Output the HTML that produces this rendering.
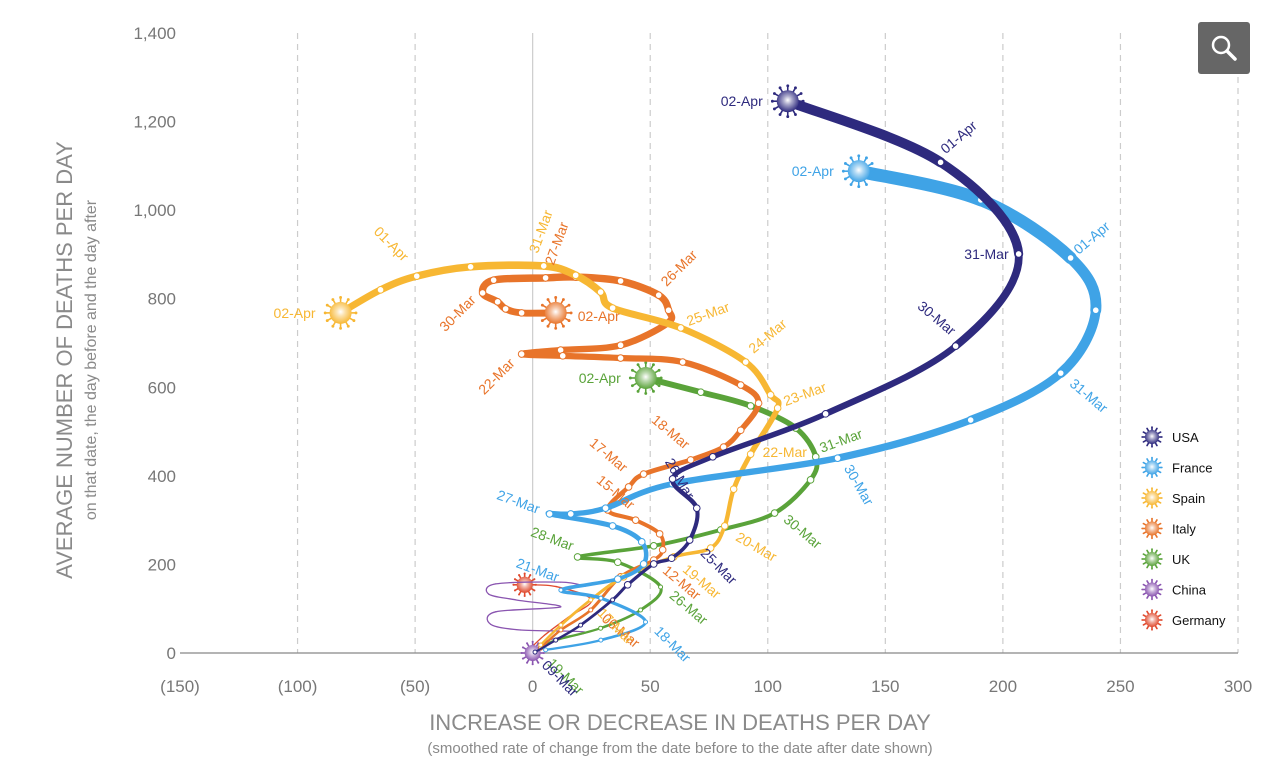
<!DOCTYPE html>
<html><head><meta charset="utf-8"><style>
body{margin:0;background:#fff;}
svg{display:block;font-family:"Liberation Sans",sans-serif;}
</style></head><body>
<svg id="chart" width="1264" height="776" viewBox="0 0 1264 776">
<defs>
<radialGradient id="glow" cx="50%" cy="45%" r="55%"><stop offset="0" stop-color="#fff"/><stop offset="0.35" stop-color="#fff" stop-opacity="0.6"/><stop offset="1" stop-color="#fff" stop-opacity="0"/></radialGradient>
</defs>
<g id="grid"></g>
<g id="axes"></g>
<g id="series"></g>
<g id="labels"></g>
<g id="legend"></g>
<text x="72" y="360" transform="rotate(-90 72 360)" text-anchor="middle" font-size="22" fill="#8a8a8a">AVERAGE NUMBER OF DEATHS PER DAY</text>
<text x="96" y="360" transform="rotate(-90 96 360)" text-anchor="middle" font-size="16" fill="#8a8a8a">on that date, the day before and the day after</text>
<text x="680" y="730" text-anchor="middle" font-size="22" fill="#8a8a8a">INCREASE OR DECREASE IN DEATHS PER DAY</text>
<text x="680" y="753" text-anchor="middle" font-size="15" fill="#8a8a8a">(smoothed rate of change from the date before to the date after date shown)</text>
<g>
<rect x="1198" y="22" width="52" height="52" rx="3" fill="#666"/>
<circle cx="1221" cy="45" r="8" fill="none" stroke="#fff" stroke-width="2.5"/>
<line x1="1227" y1="51" x2="1235" y2="59" stroke="#fff" stroke-width="3.5" stroke-linecap="round"/>
</g>
</svg>
<script>
const xTicks=[-150,-100,-50,0,50,100,150,200,250,300];
const xTickLabels=["(150)","(100)","(50)","0","50","100","150","200","250","300"];
const yTicks=[0,200,400,600,800,1000,1200,1400];
const yTickLabels=["0","200","400","600","800","1,000","1,200","1,400"];
const countries=["USA","France","Spain","Italy","UK","China","Germany"];
const colors=["#2e2a7e","#3fa3e6","#f7b733","#e8742a","#5aa33a","#8a55b0","#e04a2e"];
const usaX=[108.5,173.5,206.7,179.9,124.6,76.6,59.5,69.8,66.8,59.1,51.5,40.4,34,20.4,9.8,1];
const usaY=[1246,1108,901,693,540,443,393,327,255,214,201,154,120,63,29,2];
const franceX=[138.7,190.6,228.8,239.5,224.6,186.3,129.7,59.5,31,16.2,7.2,34,46.4,47.2,36.2,12,29,48,29,5.5];
const franceY=[1088,1023,892,774,632,526,440,382,327,314,314,287,251,201,167,142,124,70,29,7];
const spainX=[-81.7,-64.7,-49.3,-26.4,4.7,18.3,28.9,34,63,90.6,101.2,104.2,92.7,85.5,81.7,75.7,60,38.7,24.7,12,3.4];
const spainY=[768,820,851,872,874,853,815,779,734,657,583,553,449,370,287,237,217,172,120,63,18];
const italyX=[9.8,-4.7,-11.5,-14.9,-21.3,-16.6,5.5,18.3,37.4,53.6,57.8,57.4,37.4,11.9,-4.7,12.8,37.4,63.8,88.5,96.1,88.5,81.2,67.2,47.2,40.8,31.9,43.8,54,55.3,51.5,37.4,24.7,12,3.4];
const italyY=[768,768,777,793,813,842,847,849,840,808,774,745,695,684,675,671,666,657,605,564,503,465,436,404,375,323,300,269,233,210,172,97,52,11];
const ukX=[48.1,71.5,92.7,111.9,120.4,118.2,102.9,80,51.5,19.1,36.2,54.4,45.9,28.9,9.8,3.4];
const ukY=[621,589,558,508,443,391,316,278,242,217,205,149,97,56,29,11];
const chinaX=[0,6.8,22.5,-5.1,-17.9,-15.7,11.9,-7.2,-18.7,-15.7,11.9,22.5];
const chinaY=[0,29,47,52,65,93,104,120,133,156,160,151];
const germanyX=[-3.4,10,25,15,5,-2];
const germanyY=[154,150,120,80,40,5];
const seriesX=[usaX,franceX,spainX,italyX,ukX,chinaX,germanyX];
const seriesY=[usaY,franceY,spainY,italyY,ukY,chinaY,germanyY];
const labelText=[
 ["02-Apr","01-Apr","31-Mar","30-Mar","26-Mar","25-Mar","09-Mar"],
 ["02-Apr","01-Apr","31-Mar","30-Mar","27-Mar","21-Mar","18-Mar"],
 ["02-Apr","01-Apr","31-Mar","25-Mar","24-Mar","23-Mar","22-Mar","20-Mar","19-Mar","17-Mar"],
 ["02-Apr","30-Mar","27-Mar","26-Mar","22-Mar","18-Mar","17-Mar","15-Mar","12-Mar","06-Mar"],
 ["02-Apr","31-Mar","30-Mar","28-Mar","26-Mar","19-Mar"],[],[]];
const labelIdx=[[0,1,2,3,7,8,15],[0,2,4,6,10,15,17],[0,2,4,8,9,11,12,14,16,18],[0,4,6,9,14,22,24,26,29,31],[0,4,6,9,11,15],[],[]];
const labelPos=[
 [[-25,5,0,1],[5,-8,-40,0],[-10,5,0,1],[-5,-10,40,1],[-10,-8,60,1],[10,14,45,0],[6,14,45,0]],
 [[-25,5,0,1],[8,-3,-40,0],[8,12,40,0],[6,10,60,0],[-12,0,20,1],[-4,-8,20,1],[8,10,45,0]],
 [[-25,5,0,1],[-14,-14,45,1],[-6,-12,-70,0],[8,-2,-20,0],[8,-8,-40,0],[8,-2,-20,0],[12,3,0,0],[10,14,30,0],[8,14,40,0],[6,14,45,0]],
 [[22,8,0,0],[-6,8,-45,1],[8,-12,-70,0],[8,-8,-45,0],[-6,10,-45,1],[-6,-10,40,1],[-6,-14,40,1],[-6,-10,40,1],[8,12,40,0],[10,10,40,0]],
 [[-25,5,0,1],[6,-4,-20,0],[8,8,40,0],[-6,-6,20,1],[8,10,40,0],[6,16,45,0]],[],[]];
const NS="http://www.w3.org/2000/svg";
const x0=180,x1=1238,y0=653,y1=33;
function sx(v){return x0+(v+150)/450*(x1-x0);}
function sy(v){return y0-v/1400*(y0-y1);}
function mk(tag,attrs,parent){const e=document.createElementNS(NS,tag);for(const k in attrs)e.setAttribute(k,attrs[k]);parent.appendChild(e);return e;}
const grid=document.getElementById('grid'),axes=document.getElementById('axes');
xTicks.forEach((t,i)=>{
 if(t!==-150){const l=mk('line',{x1:sx(t),x2:sx(t),y1:y1,y2:y0,stroke:'#ccc','stroke-width':1.2,'stroke-dasharray':t===0?'none':'6 5'},grid);
 
 }
 const tx=mk('text',{x:sx(t),y:692,'text-anchor':'middle','font-size':17,fill:'#777'},axes);tx.textContent=xTickLabels[i];
 
 
});
yTicks.forEach((t,i)=>{
 const tx=mk('text',{x:176,y:sy(t)+6,'text-anchor':'end','font-size':17,fill:'#777'},axes);tx.textContent=yTickLabels[i];
 
 
});
const ax=mk('line',{x1:x0,x2:x1,y1:y0,y2:y0,stroke:'#888','stroke-width':1.2},axes);


function virus(g,cx,cy,r,col){
 for(let k=0;k<12;k++){const a=k*Math.PI/6;mk('line',{x1:cx+Math.cos(a)*r*0.8,y1:cy+Math.sin(a)*r*0.8,x2:cx+Math.cos(a)*r*1.35,y2:cy+Math.sin(a)*r*1.35,stroke:col,'stroke-width':1.6},g);
 mk('circle',{cx:cx+Math.cos(a)*r*1.4,cy:cy+Math.sin(a)*r*1.4,r:r*0.13,fill:col},g);}
 mk('circle',{cx:cx,cy:cy,r:r,fill:col},g);
 mk('circle',{cx:cx,cy:cy,r:r,fill:'url(#glow)'},g);
}
const sg=document.getElementById('series'),lg=document.getElementById('labels');
const big=[true,true,true,true,true,false,false];
for(let s=6;s>=0;s--){
 const g=mk('g',{},sg);
 
 
 const X=seriesX[s],Y=seriesY[s],c=colors[s];
 const P=X.map((v,i)=>[sx(v),sy(Y[i])]);
 for(let i=0;i<P.length-1;i++){
  const p0=P[i-1]||P[i],p1=P[i],p2=P[i+1],p3=P[i+2]||P[i+1];
  const c1=[p1[0]+(p2[0]-p0[0])/6,p1[1]+(p2[1]-p0[1])/6];
  const c2=[p2[0]-(p3[0]-p1[0])/6,p2[1]-(p3[1]-p1[1])/6];
  const w=big[s]?(s===1?2+Y[i]/1100*11:2+Y[i]/1250*8):1.3;
  const seg=mk('path',{d:'M'+p1+' C'+c1+' '+c2+' '+p2,fill:'none',stroke:c,'stroke-width':w,'stroke-linecap':'round'},g);
  
  
 }
 if(big[s])for(let i=1;i<X.length;i++){const d=mk('circle',{cx:sx(X[i]),cy:sy(Y[i]),r:Y[i]>150?3.3:2,fill:'#fff',stroke:c,'stroke-width':1},g);
  
  }
 const m=mk('g',{},g);
 
 
 virus(m,sx(X[0]),sy(Y[0]),s>=5?8:11,c);
 labelText[s].forEach((t,j)=>{
  const i=labelIdx[s][j],p=labelPos[s][j];const px=sx(X[i])+p[0],py=sy(Y[i])+p[1];
  const tx=mk('text',{x:px,y:py,'font-size':14,fill:c,'text-anchor':p[3]?'end':'start',transform:'rotate('+p[2]+' '+px+' '+py+')'},lg);
  tx.textContent=t;
  
  
 });
}
const gl=document.getElementById('legend');
countries.forEach((n,i)=>{
 const g=mk('g',{},gl);
 
 
 const y=437+i*30.5;
 virus(g,1152,y,7,colors[i]);
 const tx=mk('text',{x:1172,y:y+5,'font-size':13,fill:'#111'},g);tx.textContent=n;
});
</script>
</body></html>
